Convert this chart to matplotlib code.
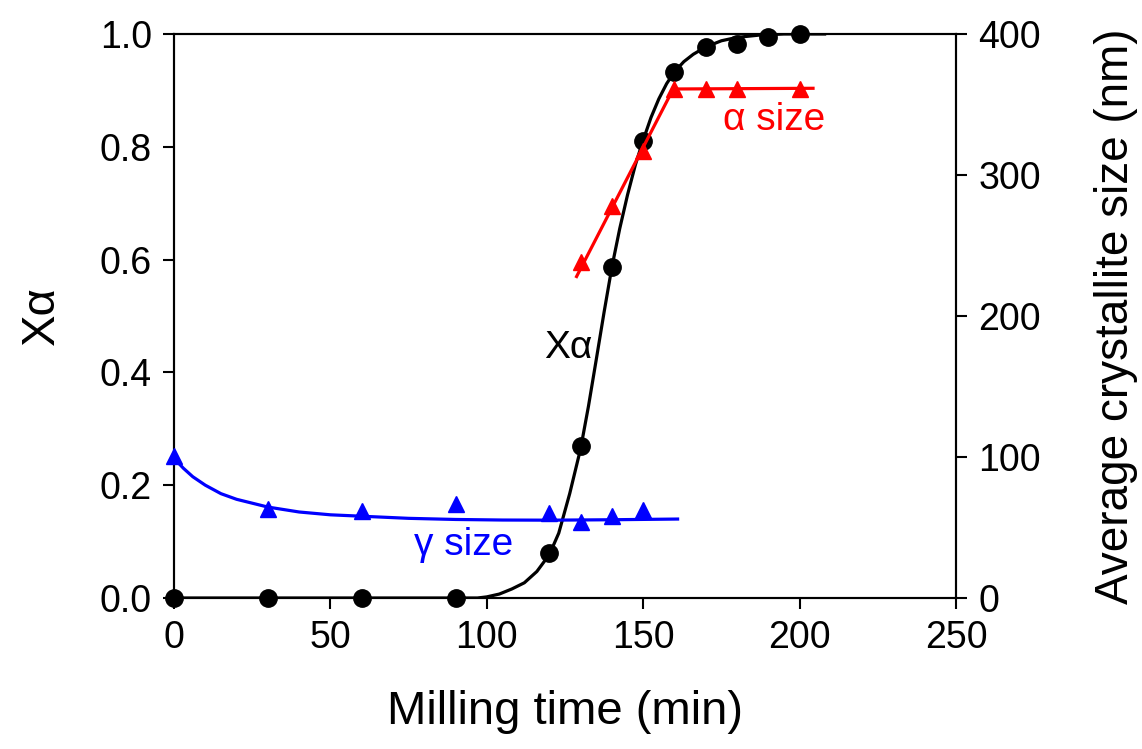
import matplotlib
matplotlib.use("Agg")
import matplotlib.pyplot as plt

plt.rcParams['font.family'] = ['Liberation Sans', 'DejaVu Sans']

# Fraction of alpha phase (left axis)
t_x = [0, 30, 60, 90, 120, 130, 140, 150, 160, 170, 180, 190, 200]
x_alpha = [0.0, 0.0, 0.0, 0.0, 0.08, 0.27, 0.587, 0.81, 0.933, 0.977, 0.982, 0.995, 1.0]
# Fitted curve for X alpha
fit_x_t = [0, 97, 100, 104, 108, 112, 116, 120, 123, 126.5, 130, 132.5, 135, 137.5, 140,
           142.5, 145, 147.5, 150, 152.5, 155, 157.5, 160, 163, 166, 170, 175, 180, 187, 195, 208]
fit_x_v = [0.0, 0.0, 0.002, 0.007, 0.016, 0.027, 0.047, 0.077, 0.115, 0.185, 0.265, 0.34, 0.423, 0.507, 0.587,
           0.655, 0.715, 0.768, 0.812, 0.852, 0.885, 0.912, 0.933, 0.951, 0.964, 0.977, 0.988, 0.994, 0.998, 1.0, 1.0]

# gamma crystallite size (right axis, nm)
t_g = [0, 30, 60, 90, 120, 130, 140, 150]
size_g = [101, 63, 62, 66.5, 60, 54, 58.5, 62.5]
fit_g_t = [0, 3, 6, 10, 15, 20, 30, 40, 50, 60, 75, 90, 105, 120, 140, 161]
fit_g_v = [99, 92, 86, 80, 74, 70, 64.5, 61, 59, 58, 56.5, 55.7, 55.3, 55.2, 55.5, 56]

# alpha crystallite size (right axis, nm)
t_a = [130, 140, 150, 160, 170, 180, 200]
size_a = [238.5, 278, 317, 361, 361, 361, 361]
fit_a_t = [128.7, 159.6, 204.3]
fit_a_v = [228, 361, 361.5]

fig = plt.figure(figsize=(11.42, 7.49), dpi=100)
ax = fig.add_axes([0.1524, 0.2016, 0.6847, 0.753])
ax2 = ax.twinx()

ax.plot(fit_x_t, fit_x_v, color='black', lw=2.3, zorder=3)
ax.plot(t_x, x_alpha, 'o', color='black', ms=12.5, zorder=4, clip_on=False)

ax2.plot(fit_g_t, fit_g_v, color='blue', lw=2.3, zorder=3)
ax2.plot(t_g, size_g, '^', color='blue', ms=12, zorder=4, clip_on=False)
ax2.plot(fit_a_t, fit_a_v, color='red', lw=2.3, zorder=3)
ax2.plot(t_a, size_a, '^', color='red', ms=12, zorder=4, clip_on=False)

ax.set_xlim(0, 250)
ax.set_ylim(0, 1.0)
ax2.set_ylim(0, 400)
ax.set_xticks([0, 50, 100, 150, 200, 250])
ax.set_yticks([0.0, 0.2, 0.4, 0.6, 0.8, 1.0])
ax.set_yticklabels(['0.0', '0.2', '0.4', '0.6', '0.8', '1.0'])
ax2.set_yticks([0, 100, 200, 300, 400])

for a in (ax, ax2):
    for s in a.spines.values():
        s.set_linewidth(1.5)
    a.tick_params(direction='out', length=8, width=1.5, labelsize=27, pad=8)

ax.set_xlabel('Milling time (min)', fontsize=34, labelpad=24)
ax.set_ylabel('Xα', fontsize=34, labelpad=26)
ax2.set_ylabel('Average crystallite size (nm)', fontsize=33, labelpad=38)

ax.text(126, 0.443, 'Xα', fontsize=28, color='black', ha='center', va='center')
ax.text(192, 0.848, 'α size', fontsize=28, color='red', ha='center', va='center')
ax.text(92.5, 0.094, 'γ size', fontsize=28, color='blue', ha='center', va='center')

fig.savefig('out.png', dpi=100)
